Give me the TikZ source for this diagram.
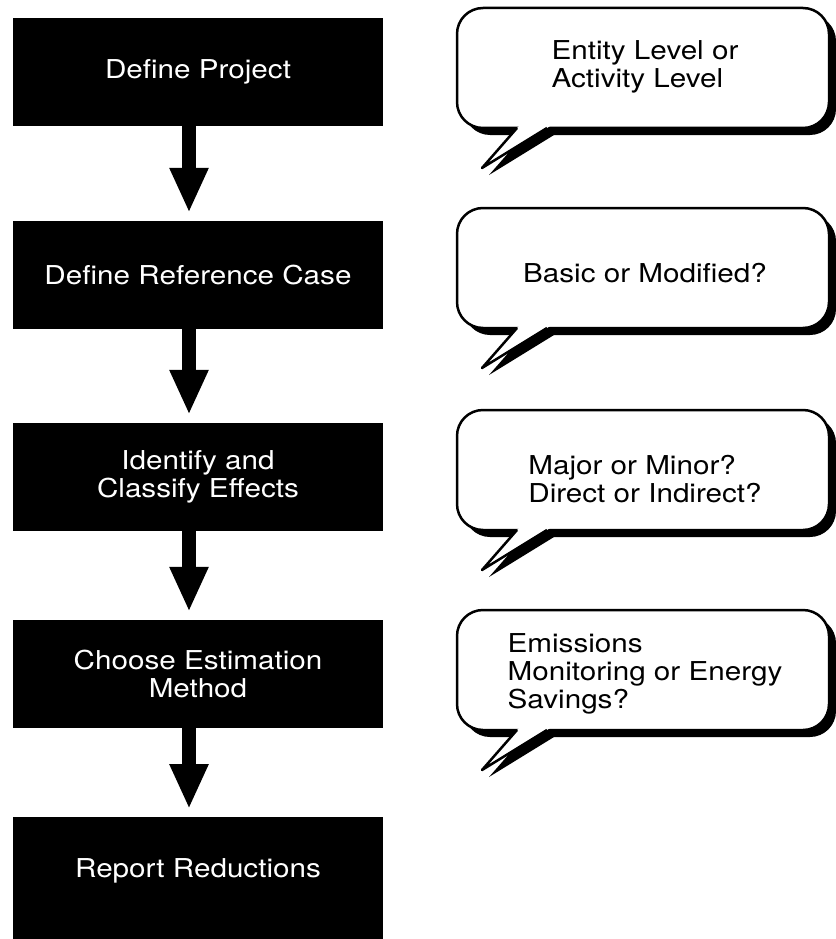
\documentclass[tikz,border=0pt]{standalone}
\usepackage{fontspec}
\newfontfamily\chartfont{TeX Gyre Heros}[FakeStretch=1.14]
\usetikzlibrary{arrows.meta}

\tikzset{
  flowbox/.style={fill=black, text=white, minimum width=370pt, minimum height=108pt,
    inner sep=0pt, align=center, font=\chartfont\fontsize{26}{28}\selectfont},
  flowarrow/.style={line width=14pt, -{Triangle[width=36pt,length=45pt]}, shorten >=8pt},
  bubbletext/.style={align=left, inner sep=0pt, font=\chartfont\fontsize{26}{28}\selectfont},
  bubbleline/.style={line width=2.5pt, line join=round}
}

\begin{document}
\begin{tikzpicture}[x=1pt,y=-1pt]
    \useasboundingbox (0,0) rectangle (835,939);

    % Steps
    \node[flowbox] (define) at (198,72) {Define Project};
    \node[flowbox] (reference) at (198,275) {Define Reference Case};
    \node[flowbox] (effects) at (198,477) {Identify and\\Classify Effects};
    \node[flowbox] (method) at (198,674) {Choose Estimation\\Method};
    \node[flowbox, anchor=north, text height=60pt, text depth=62pt] (report) at (198,817) {Report Reductions};

    % Arrows
    \foreach \a/\b in {define/reference, reference/effects, effects/method, method/report}
        \draw[flowarrow] ([xshift=-9pt]\a.south) -- ([xshift=-9pt]\b.north);

    % Callouts
    \foreach \y/\ty/\nm/\txt in {8/67/level/{Entity Level or\\Activity Level},
                                208/273/basis/{Basic or Modified?},
                                410/479/kind/{Major or Minor?\\Direct or Indirect?},
                                610/674/estimate/{Emissions\\Monitoring or Energy\\Savings?}} {
        % shadow
        \fill[rounded corners=26pt] (464,\y+7) rectangle (836,\y+127);
        \fill (520,\y+124) -- (524,\y+127) -- (489,\y+167) -- (554,\y+127) -- (558,\y+124) -- cycle;
        % bubble
        \draw[bubbleline, fill=white, rounded corners=26pt] (457,\y) rectangle (829,\y+120);
        \fill[white] (519,\y+118) -- (517,\y+120) -- (482,\y+160) -- (547,\y+120) -- (550,\y+118) -- cycle;
        \draw[bubbleline] (517,\y+120) -- (482,\y+160) -- (547,\y+120);
        \node[bubbletext] (\nm) at (645,\ty) {\txt};
    }
\end{tikzpicture}
\end{document}
